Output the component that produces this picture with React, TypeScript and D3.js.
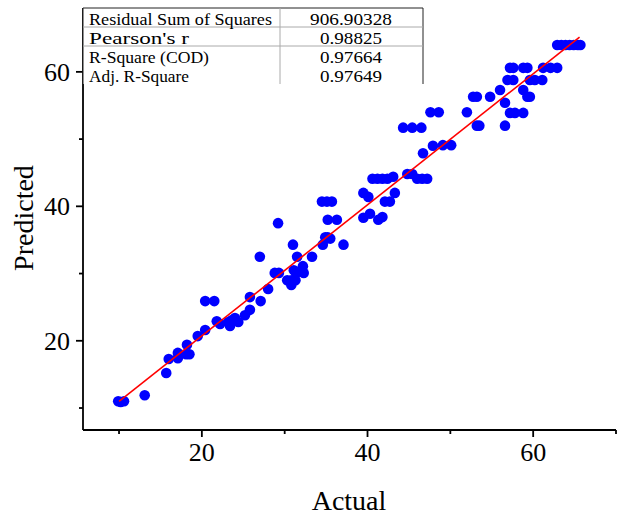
import React, { useRef, useEffect } from 'react';
import * as d3 from 'd3';

// actual vs predicted values
const ACTUAL = [
  9.9, 10.6, 10.2, 13.1, 15.7, 16.0, 17.1, 17.1, 18.2, 18.5, 18.1, 19.5, 20.4, 20.4, 21.5,
  21.8, 22.2, 23.4, 23.65, 24.0, 24.4, 23.2, 25.2, 25.8, 25.8, 27.0, 27.1, 28.0, 28.8, 29.3,
  30.3, 30.8, 31.3, 30.8, 31.0, 31.4, 31.1, 31.5, 32.2, 32.3, 33.3, 34.6, 35.0, 35.2, 35.5,
  37.1, 29.2, 34.5, 35.1, 35.7, 35.2, 36.3, 34.9, 39.5, 40.1, 39.5, 40.3, 41.3, 41.8, 42.1,
  42.7, 43.3, 40.6, 41.2, 41.8, 42.4, 43.1, 44.8, 45.4, 46.0, 46.6, 47.2, 46.7, 47.9, 49.1,
  50.1, 44.3, 45.4, 46.5, 47.6, 48.6, 52.0, 52.75, 53.2, 53.2, 53.5, 54.8, 56.0, 56.6, 56.6,
  57.2, 57.8, 58.8, 56.9, 57.6, 57.2, 57.6, 58.8, 59.3, 58.8, 59.3, 59.6, 59.6, 60.2, 61.1,
  61.2, 62.1, 62.9, 62.9, 63.4, 63.9, 64.4, 64.9, 65.4, 65.7,
];
const PREDICTED = [
  11.0, 11.0, 10.9, 11.9, 15.2, 17.3, 18.2, 17.4, 19.4, 18.0, 18.0, 20.7, 21.6, 25.9, 25.9,
  22.9, 22.5, 22.2, 23.1, 23.4, 22.8, 22.8, 23.8, 24.6, 26.5, 32.5, 25.9, 27.7, 30.1, 30.1,
  29.0, 29.0, 29.0, 28.3, 34.3, 30.1, 30.5, 32.5, 31.1, 30.1, 32.5, 34.3, 35.2, 35.4, 35.2,
  34.3, 37.5, 40.7, 40.7, 40.7, 38.0, 38.0, 35.4, 42.0, 41.4, 38.3, 38.9, 38.0, 38.4, 40.7,
  40.7, 42.0, 44.1, 44.1, 44.1, 44.1, 44.4, 44.8, 44.8, 44.1, 44.1, 44.1, 47.9, 49.0, 49.1,
  49.1, 51.7, 51.7, 51.7, 54.0, 54.0, 54.0, 56.3, 56.3, 52.0, 52.0, 56.3, 57.3, 55.4, 52.0,
  53.9, 53.9, 53.9, 58.8, 58.8, 60.6, 60.6, 60.6, 60.6, 57.3, 56.3, 56.3, 58.8, 58.8, 58.8,
  60.6, 60.6, 60.6, 64.0, 64.0, 64.0, 64.0, 64.0, 64.0, 64.0,
];
const FIT_SLOPE = 0.975;
const FIT_INTERCEPT = 1.22;

const STAT_LABELS = ['Residual Sum of Squares', "Pearson's r", 'R-Square (COD)', 'Adj. R-Square'];
const STAT_VALUES = ['906.90328', '0.98825', '0.97664', '0.97649'];

const X_TICKS = [20, 40, 60];
const X_MINOR = [10, 30, 50, 70];
const Y_TICKS = [20, 40, 60];
const Y_MINOR = [10, 30, 50];

const FONT = '"Times New Roman", "Liberation Serif", serif';

export default function App() {
  const svgRef = useRef<SVGSVGElement | null>(null);

  useEffect(() => {
    if (!svgRef.current) return;
    const width = 620;
    const height = 518;
    const svg = d3.select(svgRef.current).attr('width', width).attr('height', height);
    svg.selectAll('*').remove();

    const x = d3.scaleLinear().domain([5.65, 70]).range([83, 616]);
    const y = d3.scaleLinear().domain([6.73, 69.5]).range([430, 8]);

    svg.append('rect').attr('width', width).attr('height', height).attr('fill', '#fff');

    const pts = ACTUAL.map((a, i) => ({ a, p: PREDICTED[i] }));
    svg.append('g').selectAll('circle').data(pts).enter().append('circle')
      .attr('cx', d => x(d.a)).attr('cy', d => y(d.p)).attr('r', 5.3).attr('fill', '#0000ff');

    const [x0, x1] = d3.extent(ACTUAL) as [number, number];
    const line = d3.line<number>().x(d => x(d)).y(d => y(FIT_INTERCEPT + FIT_SLOPE * d));
    svg.append('path').attr('d', line([x0 + 0.1, x1 - 0.1])).attr('stroke', '#ff0000').attr('stroke-width', 1.6).attr('fill', 'none');

    // axes
    const ax = svg.append('g').attr('stroke', '#000').attr('stroke-width', 1.8);
    ax.append('line').attr('x1', 83).attr('x2', 616).attr('y1', 430).attr('y2', 430);
    ax.append('line').attr('x1', 83).attr('x2', 83).attr('y1', 8).attr('y2', 430);
    X_TICKS.forEach(t => ax.append('line').attr('x1', x(t)).attr('x2', x(t)).attr('y1', 430).attr('y2', 437));
    X_MINOR.forEach(t => ax.append('line').attr('x1', x(t)).attr('x2', x(t)).attr('y1', 430).attr('y2', 434));
    Y_TICKS.forEach(t => ax.append('line').attr('x1', 76).attr('x2', 83).attr('y1', y(t)).attr('y2', y(t)));
    Y_MINOR.forEach(t => ax.append('line').attr('x1', 79).attr('x2', 83).attr('y1', y(t)).attr('y2', y(t)));

    X_TICKS.forEach(t => svg.append('text').attr('x', x(t)).attr('y', 461).attr('text-anchor', 'middle')
      .attr('font-family', FONT).attr('font-size', 26).text(t));
    Y_TICKS.forEach(t => svg.append('text').attr('x', 70).attr('y', y(t)).attr('dy', '0.34em').attr('text-anchor', 'end')
      .attr('font-family', FONT).attr('font-size', 26).text(t));

    svg.append('text').attr('x', 349).attr('y', 510).attr('text-anchor', 'middle')
      .attr('font-family', FONT).attr('font-size', 28).text('Actual');
    svg.append('text').attr('transform', 'translate(33,218) rotate(-90)').attr('text-anchor', 'middle')
      .attr('font-family', FONT).attr('font-size', 28).text('Predicted');

    // stats table
    const tb = svg.append('g');
    tb.append('rect').attr('x', 83).attr('y', 8).attr('width', 340).attr('height', 76).attr('fill', '#fff');
    tb.append('line').attr('x1', 83).attr('x2', 423).attr('y1', 8).attr('y2', 8).attr('stroke', '#222').attr('stroke-width', 1);
    tb.append('line').attr('x1', 423).attr('x2', 423).attr('y1', 8).attr('y2', 84).attr('stroke', '#222').attr('stroke-width', 1);
    tb.append('line').attr('x1', 83).attr('x2', 83).attr('y1', 8).attr('y2', 84).attr('stroke', '#222').attr('stroke-width', 1);
    [27, 46].forEach(ly => tb.append('line').attr('x1', 83).attr('x2', 423).attr('y1', ly).attr('y2', ly).attr('stroke', '#aaa').attr('stroke-width', 1));
    tb.append('line').attr('x1', 280).attr('x2', 280).attr('y1', 8).attr('y2', 84).attr('stroke', '#aaa').attr('stroke-width', 1);
    const rowY = [24.5, 44, 63, 81.5];
    const labelW = [183, 100, 120, 100];
    const valueW = [82, 62, 62, 62];
    STAT_LABELS.forEach((s, i) => tb.append('text').attr('x', 89).attr('y', rowY[i])
      .attr('font-family', FONT).attr('font-size', 17.5).attr('textLength', labelW[i]).attr('lengthAdjust', 'spacingAndGlyphs').text(s));
    STAT_VALUES.forEach((s, i) => tb.append('text').attr('x', 351 - valueW[i] / 2).attr('y', rowY[i])
      .attr('font-family', FONT).attr('font-size', 17.5).attr('textLength', valueW[i]).attr('lengthAdjust', 'spacingAndGlyphs').text(s));
  }, []);

  return (
    <svg ref={svgRef} style={{ position: 'absolute', left: 0, top: 0, display: 'block' }} />
  );
}
